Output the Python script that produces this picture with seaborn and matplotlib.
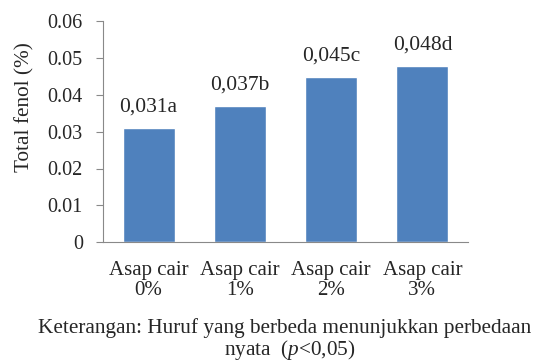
import matplotlib
matplotlib.use("Agg")
import matplotlib.pyplot as plt
import seaborn as sns
import pandas as pd

categories = ["Asap cair\n0%", "Asap cair\n1%", "Asap cair\n2%", "Asap cair\n3%"]
values = [0.031, 0.037, 0.045, 0.048]
letters = ["a", "b", "c", "d"]
yticks = [0, 0.01, 0.02, 0.03, 0.04, 0.05, 0.06]
ytick_labels = ["0", "0.01", "0.02", "0.03", "0.04", "0.05", "0.06"]

sns.set_style("white")
plt.rcParams["font.family"] = ["Liberation Serif", "DejaVu Serif"]
plt.rcParams["mathtext.fontset"] = "custom"
plt.rcParams["mathtext.rm"] = "Liberation Serif"
plt.rcParams["mathtext.it"] = "Liberation Serif:italic"

df = pd.DataFrame({"kategori": categories, "fenol": values})

fig = plt.figure(figsize=(5.33, 3.64), dpi=100)
ax = fig.add_axes([103 / 533, 1 - 242 / 364, (468 - 103) / 533, (242 - 21.5) / 364])

sns.barplot(data=df, x="kategori", y="fenol", color="#4F81BD", saturation=1,
            width=0.57, ax=ax)

for i, (v, l) in enumerate(zip(values, letters)):
    label = f"{v:.3f}".replace(".", ",") + l
    ax.text(i, v + 0.0044, label, ha="center", va="baseline", fontsize=15.5)

ax.set_ylim(0, 0.06)
ax.set_xlim(-0.5, 3.5)
ax.set_yticks(yticks)
ax.set_yticklabels(ytick_labels, fontsize=14.5)
ax.set_xticks(range(len(categories)))
ax.set_xticklabels(categories, fontsize=15, linespacing=1.02)
ax.tick_params(axis="x", length=0, pad=14)
ax.tick_params(axis="y", length=5, width=0.8, color="#898989", direction="out", pad=9.5, left=True)
ax.set_xlabel("")
ax.set_ylabel("Total fenol (%)", fontsize=15.3)
ax.yaxis.set_label_coords(-69 / 365, 0.61)
for s in ["top", "right"]:
    ax.spines[s].set_visible(False)
for s in ["left", "bottom"]:
    ax.spines[s].set_color("#898989")
    ax.spines[s].set_linewidth(0.8)

fig.text(285 / 533, 1 - 328 / 364, "Keterangan: Huruf yang berbeda menunjukkan perbedaan",
         ha="center", va="center", fontsize=15.3)
fig.text(290 / 533, 1 - 350 / 364, "nyata  ($p$<0,05)", ha="center", va="center", fontsize=15.3)

fig.savefig("out.png", dpi=100)
